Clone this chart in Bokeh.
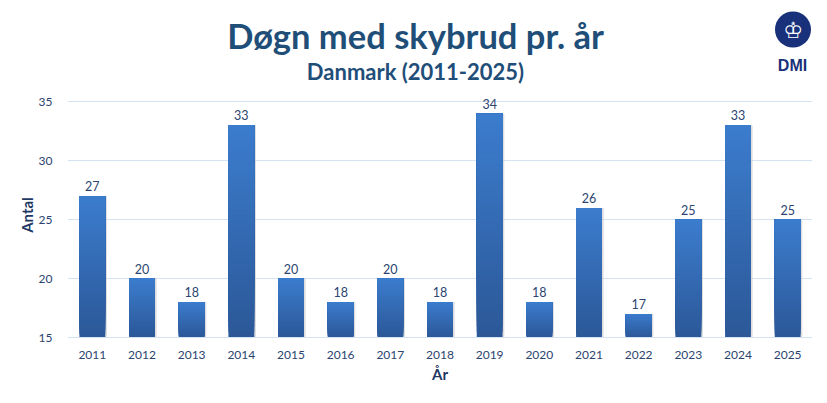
import numpy as np
from bokeh.plotting import figure
from bokeh.layouts import column
from bokeh.models import ColumnDataSource, LabelSet, Range1d, SingleIntervalTicker
from bokeh.core.properties import value
from bokeh.transform import dodge
from bokeh.embed import file_html
from bokeh.resources import INLINE

years = ["2011", "2012", "2013", "2014", "2015", "2016", "2017", "2018",
         "2019", "2020", "2021", "2022", "2023", "2024", "2025"]
counts = [27, 20, 18, 33, 20, 18, 20, 18, 34, 18, 26, 17, 25, 33, 25]
y_start, y_top_tick = 15, 35

TITLE = "Døgn med skybrud pr. år"
SUBTITLE = "Danmark (2011-2025)"
LOGO_TEXT = "DMI"
FONT = "Lato"
NAVY = "#1f4e79"
TICK = "#2b4470"
LOGO = "#19307a"

W = 819
HEAD_H = 92
MAIN_H = 303
LEFT, RIGHT = 67, 7

# ---------- header (title, subtitle, logo); frame aligned with chart frame ----------
h = figure(width=W, height=HEAD_H, x_range=Range1d(LEFT, W - RIGHT),
           y_range=Range1d(HEAD_H, 0),
           output_backend="svg", toolbar_location=None,
           x_axis_location=None, y_axis_location=None,
           min_border_left=LEFT, min_border_right=RIGHT,
           min_border_top=0, min_border_bottom=0)
h.outline_line_color = None
h.xgrid.visible = False
h.ygrid.visible = False
h.text(x=[415], y=[35], text=[TITLE], text_align="center", text_baseline="alphabetic",
       text_font=value(FONT), text_font_size="34.5px", text_font_style="bold", text_color=NAVY)
h.text(x=[415], y=[71], text=[SUBTITLE], text_align="center", text_baseline="alphabetic",
       text_font=value(FONT), text_font_size="22px", text_font_style="bold", text_color=NAVY)
h.scatter(x=[792.5], y=[29], size=36, marker="circle", fill_color=LOGO, line_color=None)
h.text(x=[792.5], y=[30], text=["♔"], text_align="center", text_baseline="middle",
       text_font=value("DejaVu Sans"), text_font_size="22px", text_color="white")
h.text(x=[792], y=[65], text=[LOGO_TEXT], text_align="center", text_baseline="alphabetic",
       text_font=value("Liberation Sans"), text_font_size="16px", text_font_style="bold",
       text_color=LOGO)

# ---------- main chart ----------
p = figure(x_range=years, y_range=Range1d(y_start, 35.8), width=W, height=MAIN_H,
           output_backend="svg", toolbar_location=None,
           min_border_left=LEFT, min_border_right=RIGHT, min_border_top=0, min_border_bottom=58)
p.outline_line_color = None

# gradient bars built from overlapping slices (bottom -> top)
N = 40
xs, bots, tops, cols = [], [], [], []
c_bot = np.array([44, 88, 152])
c_top = np.array([60, 125, 206])
for yr, v in zip(years, counts):
    for k in range(N):
        b = y_start + (v - y_start) * k / N
        f = (k + 0.5) / N
        c = (c_bot + (c_top - c_bot) * f).astype(int)
        xs.append(yr); bots.append(b); tops.append(v)
        cols.append("#%02x%02x%02x" % tuple(c))

shadow = ColumnDataSource(dict(x=years, top=counts))
p.vbar(x=dodge("x", 0.035, range=p.x_range), top="top", bottom=y_start, width=0.52,
       source=shadow, fill_color="#c8c8c8", fill_alpha=0.6, line_color=None)
src = ColumnDataSource(dict(x=xs, bottom=bots, top=tops, color=cols))
p.vbar(x="x", bottom="bottom", top="top", width=0.52, source=src,
       fill_color="color", line_color=None)

lab = ColumnDataSource(dict(x=years, y=counts, t=[str(c) for c in counts]))
p.add_layout(LabelSet(x="x", y="y", text="t", source=lab, y_offset=5,
                      text_align="center", text_baseline="bottom",
                      text_font=value(FONT), text_font_size=value("12.5px"),
                      text_color=value(TICK)))

p.yaxis.ticker = SingleIntervalTicker(interval=5)
p.ygrid.grid_line_color = "#d5e2f2"
p.ygrid.grid_line_width = 1
p.xgrid.grid_line_color = None
for ax in (p.xaxis[0], p.yaxis[0]):
    ax.major_tick_line_color = None
    ax.minor_tick_line_color = None
    ax.major_label_text_font = FONT
    ax.major_label_text_font_size = "12px"
    ax.major_label_text_color = TICK
    ax.axis_label_text_font = FONT
    ax.axis_label_text_font_size = "15px"
    ax.axis_label_text_font_style = "bold"
    ax.axis_label_text_color = "#1f3864"
p.yaxis.axis_line_color = None
p.xaxis.axis_line_color = "#d5e2f2"
p.xaxis.major_label_standoff = 7
p.yaxis.major_label_standoff = 9
p.xaxis.axis_label = "År"
p.yaxis.axis_label = "Antal"
p.xaxis.axis_label_standoff = 3
p.yaxis.axis_label_standoff = 0

layout = column(h, p, spacing=0)
open("out.html", "w").write(file_html(layout, INLINE))
